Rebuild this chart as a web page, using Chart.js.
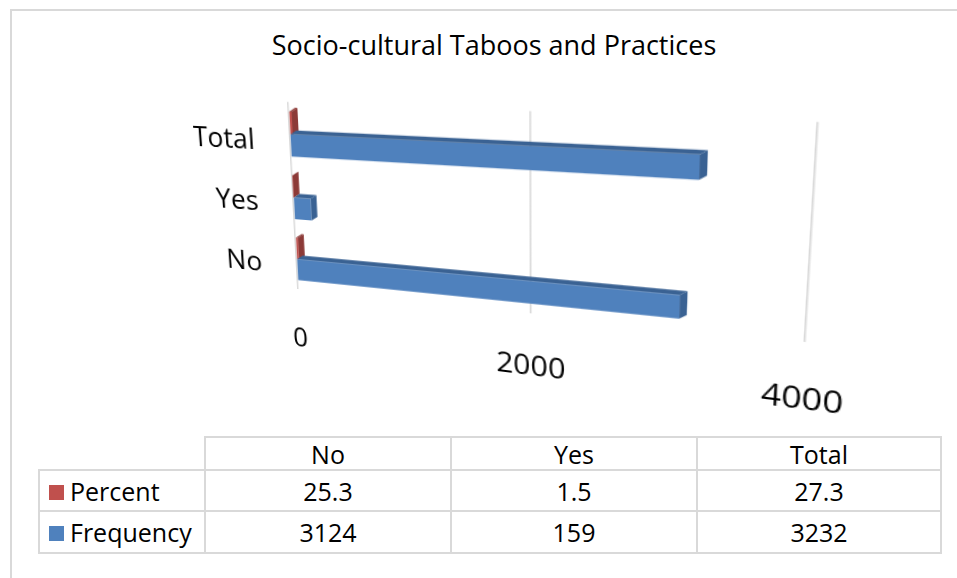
<!DOCTYPE html>
<html>
<head>
<meta charset="utf-8">
<script src="https://cdn.jsdelivr.net/npm/chart.js@4.4.1/dist/chart.umd.min.js"></script>
<style>
  html, body { margin:0; padding:0; background:#fff; }
  #stage { position:relative; width:957px; height:578px; overflow:hidden; background:#fff; font-family:"Open Sans", sans-serif; color:#000; }
  #frame { position:absolute; left:10px; top:9px; width:980px; height:620px; border:2px solid #d9d9d9; box-sizing:border-box; }
  #title { position:absolute; left:30px; width:928px; top:27px; text-align:center; font-size:27px; line-height:36px; }
  #chart { position:absolute; left:0; top:0; transform-origin:0 0; }
  #tbl { position:absolute; left:38px; top:436px; border-collapse:collapse; font-size:25px; }
  #tbl td { border:2px solid #d9d9d9; padding:0; text-align:center; line-height:30px; }
  #tbl td.blank { border:none; }
  #tbl td.key { text-align:left; padding-left:9px; white-space:nowrap; }
  .sw { display:inline-block; width:15px; height:15px; margin-right:6px; vertical-align:1px; }
</style>
</head>
<body>
<div id="stage">
  <div id="frame"></div>
  <div id="title"></div>
  <canvas id="chart" width="620" height="300"></canvas>
  <table id="tbl"></table>
</div>
<script>
// ---- data ----
const chartTitle = "Socio-cultural Taboos and Practices";
const categories = ["No", "Yes", "Total"];
const seriesNames = ["Percent", "Frequency"];
const percent = [25.3, 1.5, 27.3];
const frequency = [3124, 159, 3232];
const xTicks = [0, 2000, 4000];

// ---- styles ----
const colors = { Percent: "#C0504D", Frequency: "#4F81BD" };
const darkColors = { Percent: "#8C3A37", Frequency: "#3A6293" };
const FONT = "'Open Sans'";

document.getElementById('title').textContent = chartTitle;

// data table (built from arrays)
const tbl = document.getElementById('tbl');
const colW = [166, 246, 246, 244];
const rowH = [33, 41, 42];
let html = '<colgroup>' + colW.map(w => `<col style="width:${w}px">`).join('') + '</colgroup>';
html += `<tr style="height:${rowH[0]}px"><td class="blank"></td>` + categories.map(c => `<td>${c}</td>`).join('') + '</tr>';
const seriesVals = { Percent: percent, Frequency: frequency };
seriesNames.forEach((s, i) => {
  html += `<tr style="height:${rowH[i+1]}px"><td class="key"><span class="sw" style="background:${colors[s]}"></span>${s}</td>` +
    seriesVals[s].map(v => `<td>${v}</td>`).join('') + '</tr>';
});
tbl.innerHTML = html;

// chart: top to bottom Total, Yes, No (Excel puts first category at bottom)
const labelsTopDown = categories.slice().reverse();
const pctTopDown = percent.slice().reverse();
const freqTopDown = frequency.slice().reverse();

// 3-D look: darker top face and end face for every bar, from the bar elements' own geometry
const DEPTH_X = 6, DEPTH_Y = 4;
const barFaces = {
  id: 'barFaces',
  afterDatasetsDraw(chart) {
    const ctx = chart.ctx;
    chart.data.datasets.forEach((ds, di) => {
      const meta = chart.getDatasetMeta(di);
      ctx.save();
      ctx.fillStyle = ds.borderColor;
      meta.data.forEach(el => {
        const p = el.getProps(['x', 'y', 'base', 'height'], true);
        const top = p.y - p.height / 2, bot = p.y + p.height / 2;
        const x0 = Math.min(p.base, p.x), x1 = Math.max(p.base, p.x);
        ctx.beginPath();
        ctx.moveTo(x0, top); ctx.lineTo(x1, top);
        ctx.lineTo(x1 + DEPTH_X, top - DEPTH_Y); ctx.lineTo(x0 + DEPTH_X, top - DEPTH_Y);
        ctx.closePath(); ctx.fill();
        ctx.beginPath();
        ctx.moveTo(x1, top); ctx.lineTo(x1 + DEPTH_X, top - DEPTH_Y);
        ctx.lineTo(x1 + DEPTH_X, bot - DEPTH_Y); ctx.lineTo(x1, bot);
        ctx.closePath(); ctx.fill();
      });
      ctx.restore();
    });
  }
};

function homography(src, dst) {
  const A = [], b = [];
  for (let i = 0; i < 4; i++) {
    const [x, y] = src[i], [u, v] = dst[i];
    A.push([x, y, 1, 0, 0, 0, -x * u, -y * u]); b.push(u);
    A.push([0, 0, 0, x, y, 1, -x * v, -y * v]); b.push(v);
  }
  const n = 8;
  for (let c = 0; c < n; c++) {
    let p = c;
    for (let r = c + 1; r < n; r++) if (Math.abs(A[r][c]) > Math.abs(A[p][c])) p = r;
    [A[c], A[p]] = [A[p], A[c]]; [b[c], b[p]] = [b[p], b[c]];
    for (let r = 0; r < n; r++) {
      if (r === c) continue;
      const f = A[r][c] / A[c][c];
      for (let k = c; k < n; k++) A[r][k] -= f * A[c][k];
      b[r] -= f * b[c];
    }
  }
  return b.map((val, i) => val / A[i][i]);
}

function build() {
  Chart.defaults.font.family = FONT;
  const chart = new Chart(document.getElementById('chart'), {
    type: 'bar',
    data: {
      labels: labelsTopDown,
      datasets: [
        { label: seriesNames[0], data: pctTopDown, backgroundColor: colors.Percent, borderColor: darkColors.Percent, borderWidth: 0 },
        { label: seriesNames[1], data: freqTopDown, backgroundColor: colors.Frequency, borderColor: darkColors.Frequency, borderWidth: 0 }
      ]
    },
    options: {
      indexAxis: 'y',
      responsive: false,
      animation: false,
      events: [],
      layout: { padding: { top: 10, right: 40, bottom: 0, left: 10 } },
      plugins: { legend: { display: false }, tooltip: { enabled: false }, title: { display: false } },
      datasets: { bar: { categoryPercentage: 0.7, barPercentage: 1.0 } },
      scales: {
        x: {
          min: xTicks[0], max: xTicks[xTicks.length - 1],
          afterBuildTicks: (s) => { s.ticks = xTicks.map(v => ({ value: v })); },
          afterFit: (s) => { s.height = 70; },
          ticks: { font: { family: FONT, size: 27 }, color: '#000', padding: 36, maxRotation: 0,
                   callback: (v) => String(v) },
          grid: { color: '#d9d9d9', lineWidth: 1.5, drawTicks: false },
          border: { display: false }
        },
        y: {
          afterFit: (s) => { s.width = 100; },
          ticks: { font: { family: FONT, size: 28 }, color: '#000', padding: 28, labelOffset: 8 },
          grid: { display: false },
          border: { display: false }
        }
      }
    },
    plugins: [barFaces]
  });

  // perspective projection of the plot frame (imitates Excel 3-D view)
  const ca = chart.chartArea;
  const frameSrc = [[ca.left, ca.top], [ca.right, ca.top], [ca.right, ca.bottom], [ca.left, ca.bottom]];
  const frameDst = [[288, 102], [818, 122], [805, 342], [298, 289]];
  const h = homography(frameSrc, frameDst);
  document.getElementById('chart').style.transform =
    `matrix3d(${h[0]},${h[3]},0,${h[6]},${h[1]},${h[4]},0,${h[7]},0,0,1,0,${h[2]},${h[5]},0,1)`;
}

if (document.fonts && document.fonts.load) {
  document.fonts.load("24px 'Open Sans'").then(build, build);
} else {
  build();
}
</script>
</body>
</html>
